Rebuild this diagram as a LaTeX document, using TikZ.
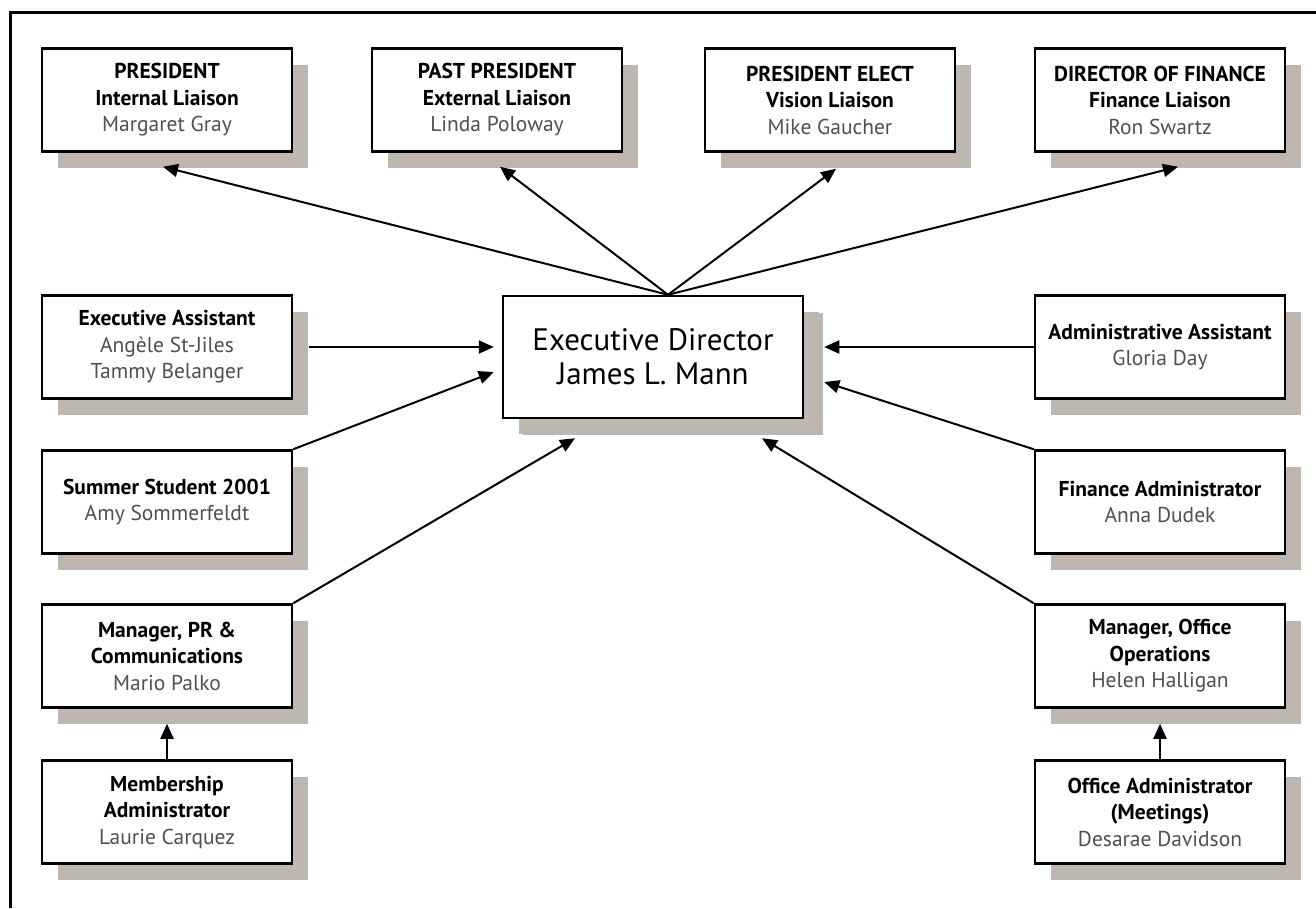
\documentclass[tikz,border=0pt]{standalone}
\usepackage{fontspec}
\setmainfont{PT Sans}
\usetikzlibrary{shadows,arrows.meta}
\definecolor{shadowc}{RGB}{190,183,176}
\definecolor{namec}{RGB}{80,80,80}
\tikzset{
  box/.style={draw, line width=2.5pt, fill=white, minimum width=250pt, minimum height=103pt,
    align=center, inner sep=1pt, font=\fontsize{21.5}{26.5}\selectfont,
    drop shadow={shadow xshift=16pt, shadow yshift=-16pt, fill=shadowc, opacity=1}},
  bigbox/.style={box, minimum width=300pt, minimum height=122pt, font=\fontsize{31}{34}\selectfont,
    drop shadow={shadow xshift=20pt, shadow yshift=-17pt, fill=shadowc, opacity=1}},
  arr/.style={line width=2pt, -{Triangle[length=15pt,width=13pt]}}
}
\newcommand{\hd}[1]{\textbf{#1}}
\newcommand{\nm}[1]{\textcolor{namec}{#1}}
\begin{document}
\begin{tikzpicture}[x=1pt,y=-1pt]
\useasboundingbox (0,0) rectangle (1316,908);
\draw[line width=3pt] (10,908) -- (10,12) -- (1316,12);
% top row
\node[box] (pres) at (167,100) {\hd{PRESIDENT}\\\hd{Internal Liaison}\\\nm{Margaret Gray}};
\node[box] (past) at (497,100) {\hd{PAST PRESIDENT}\\\hd{External Liaison}\\\nm{Linda Poloway}};
\node[box] (elect) at (830,100) {\hd{PRESIDENT ELECT}\\\hd{Vision Liaison}\\\nm{Mike Gaucher}};
\node[box] (fin) at (1160,100) {\hd{DIRECTOR OF FINANCE}\\\hd{Finance Liaison}\\\nm{Ron Swartz}};
% centre
\node[bigbox] (ed) at (653,357) {Executive Director\\James L. Mann};
% left column
\node[box] (ea) at (167,347) {\hd{Executive Assistant}\\\nm{Angèle St-Jiles}\\\nm{Tammy Belanger}};
\node[box] (ss) at (167,502) {\hd{Summer Student 2001}\\\nm{Amy Sommerfeldt}};
\node[box] (mpr) at (167,656) {\hd{Manager, PR \&}\\\hd{Communications}\\\nm{Mario Palko}};
\node[box] (mem) at (167,812) {\hd{Membership}\\\hd{Administrator}\\\nm{Laurie Carquez}};
% right column
\node[box] (aa) at (1160,347) {\hd{Administrative Assistant}\\\nm{Gloria Day}};
\node[box] (fa) at (1160,502) {\hd{Finance Administrator}\\\nm{Anna Dudek}};
\node[box] (mo) at (1160,656) {\hd{Manager, Office}\\\hd{Operations}\\\nm{Helen Halligan}};
\node[box] (oa) at (1160,812) {\hd{Office Administrator}\\\hd{(Meetings)}\\\nm{Desarae Davidson}};
% connectors
\coordinate (hub) at ([xshift=15pt]ed.north);
\draw[arr] (hub) -- ([xshift=-4pt,yshift=-14pt]pres.south);
\draw[arr] (hub) -- ([xshift=3pt,yshift=-14pt]past.south);
\draw[arr] (hub) -- ([xshift=6pt,yshift=-16pt]elect.south);
\draw[arr] (hub) -- ([xshift=18pt,yshift=-14pt]fin.south);
\draw[arr] ([xshift=16pt]ea.east) -- ([xshift=-8pt,yshift=10pt]ed.west);
\draw[arr] (ss.north east) -- ([xshift=-8pt,yshift=-15pt]ed.west);
\draw[arr] (mpr.north east) -- ([xshift=-78pt,yshift=-19pt]ed.south);
\draw[arr] (aa.west) -- ([xshift=20pt,yshift=10pt]ed.east);
\draw[arr] (fa.north west) -- ([xshift=20pt,yshift=-25pt]ed.east);
\draw[arr] (mo.north west) -- ([xshift=109pt,yshift=-19pt]ed.south);
\draw[arr] (mem.north) -- ([yshift=-15pt]mpr.south);
\draw[arr] (oa.north) -- ([yshift=-15pt]mo.south);
\end{tikzpicture}
\end{document}
